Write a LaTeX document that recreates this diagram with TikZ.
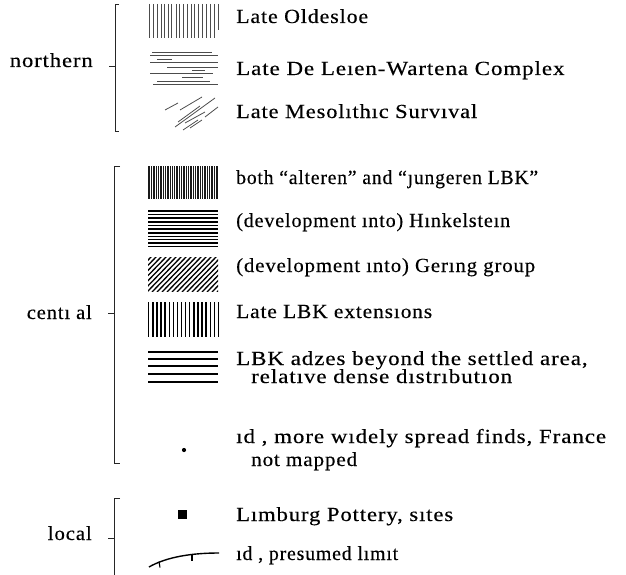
\documentclass[tikz,border=0pt]{standalone}
\usepackage{fontspec}
\usepackage{graphicx}
\setmainfont{Liberation Serif}[LetterSpace=4,FakeBold=0.3]
\newsavebox\fitbox
\newcommand\fitw[2]{\sbox\fitbox{#2}\pgfmathsetmacro\fitr{max(0.97,min(1.15,#1pt/\the\wd\fitbox))}\scalebox{\fitr}[1]{\usebox\fitbox}}
\begin{document}
\begin{tikzpicture}[x=1pt,y=-1pt,
  lab/.style={anchor=base west,inner sep=0pt,font=\fontsize{20}{24}\selectfont},
  grp/.style={anchor=base east,inner sep=0pt,font=\fontsize{20}{24}\selectfont},
  brk/.style={line width=0.7pt,black!85},
  thin/.style={line width=0.8pt,black!70},
  hatch/.style={line width=1.3pt,black}]
\useasboundingbox (0,0) rectangle (626,575);
% ---------- brackets ----------
\draw[brk] (119,4) -- (115,4) -- (115,131) -- (119,131);
\draw[brk] (109,66) -- (115,66);
\draw[brk] (120,166) -- (114,166) -- (114,463) -- (120,463);
\draw[brk] (108,313) -- (114,313);
\draw[brk] (120,498) -- (114,498) -- (114,576);
\draw[brk] (108,538) -- (114,538);
% ---------- group labels ----------
\node[grp] (g1) at (93,67) {\fitw{83}{northern}};
\node[grp] (g2) at (92,319) {\fitw{65}{centı al}};
\node[grp] (g3) at (92,540) {\fitw{44}{local}};
% ---------- northern swatches ----------
\foreach \x in {149,153,157,161,164,168,171,176,179,183,187,191,194,198,202,206,210,214}
  \draw[thin] (\x,4) -- (\x,38);
\draw[thin] (218,4) -- (218,30);
\foreach \a/\b/\y in {152/212/52,150/218/55,157/172/59,150/218/62,167/218/67,192/205/70,150/213/73,182/203/77,157/210/81,153/218/84}
  \draw[thin] (\a,\y) -- (\b,\y);
\foreach \a/\b/\c/\d in {165/110/178/103, 180/110/202/97, 175/127/215/98, 178/122/200/106, 185/123/205/112, 183/130/198/120, 190/128/202/120, 205/117/218/107}
  \draw[thin] (\a,\b) -- (\c,\d);
% ---------- central swatches ----------
\fill[black!90] (148,166) rectangle (218,199);
\foreach \x in {150.3,152.4,154.9,157.1,159.6,161.8,164.2,166.3,168.9,171.1,173.5,175.6,178.2,180.4,182.7,185.0,187.4,189.5,192.1,194.3,196.6,198.9,201.3,203.4,206.0,208.2,210.5,212.8,215.3}
  \draw[white,line width=0.6pt] (\x,166) -- (\x,199);
\foreach \y in {211,214.5,218,222,225.5,229,233,236.5,239.5,243,246.5}
  \draw[line width=1.1pt] (148,\y) -- (218,\y);
\begin{scope}
  \clip (148,257) rectangle (218,291);
  \foreach \i in {0,...,22}
    \draw[hatch] ({112+\i*5},292) -- ({147+\i*5},256);
\end{scope}
\foreach \i in {0,...,17}
  \draw[line width=1.4pt] ({148.7+\i*4.1},302) -- ({148.7+\i*4.1},337);
\foreach \y in {352,359,366,374,382}
  \draw[line width=1.1pt] (148,\y) -- (218,\y);
\fill (184,450) circle (2.1);
\fill (178,510) rectangle (187,519);
\draw[line width=1.4pt] (149,567) .. controls (163,559) and (185,553) .. (219,553);
\draw[line width=1.1pt] (159,561.5) -- (160,567.5);
\draw[line width=1.1pt] (192,554.5) -- (192,560.5);
% ---------- item labels ----------
\node[lab] (t1) at (236,23) {\fitw{132}{Late Oldesloe}};
\node[lab] (t2) at (236,75) {\fitw{329}{Late De Leıen-Wartena Complex}};
\node[lab] (t3) at (236,118) {\fitw{241}{Late Mesolıthıc Survıval}};
\node[lab] (t4) at (236,184) {\fitw{302}{both “alteren” and “ȷungeren LBK”}};
\node[lab] (t5) at (236,227) {\fitw{274}{(development ınto) Hınkelsteın}};
\node[lab] (t6) at (236,272) {\fitw{299}{(development ınto) Gerıng group}};
\node[lab] (t7) at (236,318) {\fitw{196}{Late LBK extensıons}};
\node[lab] (t8) at (236,365) {\fitw{352}{LBK adzes beyond the settled area,}};
\node[lab] (t9) at (251,383) {\fitw{280}{relatıve dense dıstrıbutıon}};
\node[lab] (t10) at (236,443) {\fitw{374}{ıd , more wıdely spread finds, France}};
\node[lab] (t11) at (251,466) {\fitw{106}{not mapped}};
\node[lab] (t12) at (236,521) {\fitw{217}{Lımburg Pottery, sıtes}};
\node[lab] (t13) at (236,560) {\fitw{162}{ıd , presumed lımıt}};
\end{tikzpicture}
\end{document}
